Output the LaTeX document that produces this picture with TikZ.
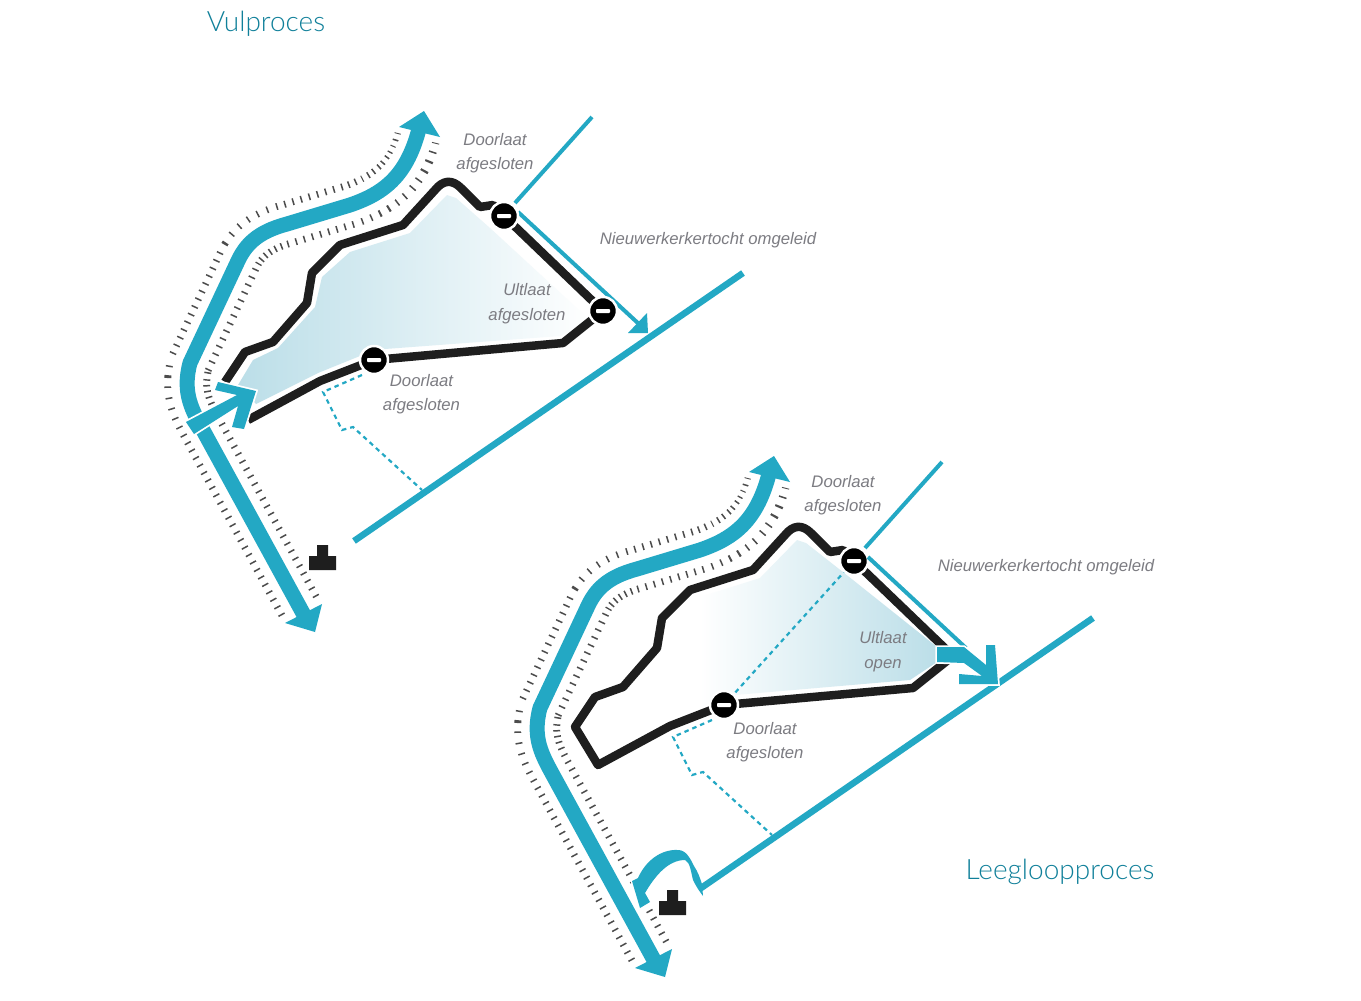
\documentclass[tikz,border=0pt]{standalone}
\usepackage{fontspec}
\setmainfont{Liberation Sans}
\newfontfamily\ttlfont[UprightFont=* Light]{Lato}
\definecolor{river}{HTML}{23A8C4}
\definecolor{lab}{HTML}{7C7C82}
\definecolor{title}{HTML}{10809A}
\definecolor{tint}{HTML}{BBDEE8}
\definecolor{dk}{HTML}{1E1E1E}
\tikzset{
  lbl/.style={text=lab,align=center,inner sep=0pt,font=\fontsize{16.7}{24.5}\selectfont\itshape},
  ttl/.style={text=title,inner sep=0pt,font=\ttlfont\fontsize{28}{32}\selectfont},
  riverline/.style={draw=river,line width=15pt,line join=round},
  tickouter/.style={draw=black!70,line width=46pt,dash pattern=on 1.5pt off 7pt},
  tickinner/.style={draw=white,line width=32pt},
  dyke/.style={draw=dk,line width=8.5pt,line join=round},
  cyanthin/.style={draw=river,line width=4pt},
  cyanmain/.style={draw=river,line width=6.5pt},
  dashline/.style={draw=river,line width=2.2pt,dash pattern=on 4.5pt off 4pt},
  gatenode/.style={circle,fill=black,draw=white,line width=2.5pt,minimum size=28pt,inner sep=0pt,
    path picture={\fill[white,rounded corners=0.8pt] (-7,-2) rectangle (7,2);}},
  head/.style={fill=river,draw=none},
  halohead/.style={fill=river,preaction={draw=white,line width=3.5pt,line join=miter}},
}
\newcommand\rivpath{(304,615) -- (204,432) .. controls (192,410) and (182,393) .. (190,363) -- (237,263) .. controls (245,245) and (257,232) .. (287,224) -- (350,205) .. controls (385,193) and (408,175) .. (420,125)}
\newcommand\tickpath{(299,606) -- (204,432) .. controls (192,410) and (182,393) .. (190,363) -- (237,263) .. controls (245,245) and (257,232) .. (287,224) -- (350,205) .. controls (385,193) and (408,175) .. (417,138)}
\newcommand\riverbase{%
  \draw[tickouter] \tickpath;
  \draw[tickinner] \rivpath;
  \fill[head] (399,127) -- (424,111) -- (440,137) -- cycle;
  \fill[head] (285,623) -- (322,604) -- (315,632) -- cycle;
}
\newcommand\gatesetup{%
  \coordinate (g1) at (504,216);
  \coordinate (g2) at (603,311);
  \coordinate (g3) at (374,360);
  \coordinate (k1) at (225,382);
  \coordinate (k2) at (248,420);
  \coordinate (fa) at (354,541);
  \coordinate (fb) at (743,273);
  \coordinate (ta) at (592,117);
  \coordinate (tb) at (515,203);
  \coordinate (d1) at (362,375);
  \coordinate (d5) at (422,490);
}
\newcommand\dykeupper{(k1) -- (245,352) -- (273,342) -- (307,303) -- (312,273) -- (340,245) -- (403,225) -- (435,190) .. controls (443,180) and (452,179) .. (461,188) -- (480,207) -- (493,205) -- (g1)}
\newcommand\dykerest{(g1) -- (g2) -- (563,343) -- (g3) -- (320,381) -- (k2)}
\newcommand\dashpart{\draw[dashline] (d1) -- (323,392) -- (342,430) -- (353,427) -- (d5);}
\newcommand\factory{\fill[dk] (309,556) -- (317,556) -- (317,545) -- (328,545) -- (328,556) -- (336,556) -- (336,570) -- (309,570) -- cycle;}
\begin{document}
\begin{tikzpicture}[x=1pt,y=-1pt]
\useasboundingbox (0,0) rectangle (1361,1001);
\fill[white] (0,0) rectangle (1361,1001);
% ---------- upper panel
\begin{scope}[name prefix=a-]
  \gatesetup
  \shade[left color=tint,right color=white]
    (238,385) -- (253,360) -- (278,348) -- (315,307) -- (322,277) -- (350,252) -- (410,233) -- (447,195) -- (456,198) -- (490,228) -- (592,322) -- (560,336) -- (385,349) -- (360,356) -- (318,373) -- (256,404) -- cycle;
  \dashpart
  \riverbase
  \draw[riverline] \rivpath;
  \draw[cyanmain] (fa) -- (fb);
  \draw[cyanthin] (ta) -- (tb);
  \coordinate (te) at (518,212);
  \coordinate (tf) at (640,325);
  \draw[cyanthin] (te) -- (tf);
  \fill[head] (628,333) -- (647,313) -- (648,333) -- cycle;
  \draw[dyke] \dykeupper;
  \draw[dyke] \dykerest;
  \factory
  \node[gatenode] (A1) at (g1) {};
  \node[gatenode] (A2) at (g2) {};
  \node[gatenode] (A3) at (g3) {};
  \path[halohead] (186,422) -- (237,395) -- (215,390) -- (218,382) -- (256,391) -- (244,429) -- (232,427) -- (238,406) -- (194,434) -- cycle;
\end{scope}
\node[ttl] (t1) at (266,24) {Vulproces};
\node[lbl] (l1) at (495,153) {Doorlaat\\afgesloten};
\node[lbl] (l2) at (708,240) {Nieuwerkerkertocht omgeleid};
\node[lbl] (l3) at (527,303.5) {Ultlaat\\afgesloten};
\node[lbl] (l4) at (421.5,394) {Doorlaat\\afgesloten};
% ---------- lower panel
\shade[left color=white,right color=tint]
  (700,597) -- (760,578) -- (797,540) -- (806,543) -- (853,580) -- (937,647) -- (937,662) -- (910,680) -- (735,695) -- (710,702) -- (700,708) -- cycle;
\begin{scope}[shift={(350,345)},name prefix=b-]
  \gatesetup
  \dashpart
  \riverbase
  \draw[riverline] \rivpath;
  \draw[cyanthin] (ta) -- (tb);
  \draw[dashline] (g3) -- (g1);
  \draw[dyke] \dykeupper;
  \draw[dyke,line cap=round] (k1) -- (k2);
  \draw[dyke] \dykerest;
  \factory
  \node[gatenode] (B1) at (g1) {};
  \node[gatenode] (B3) at (g3) {};
\end{scope}
% white gap where the outflow leaves the dyke
\fill[white] (938,646) -- (960,646) -- (960,664) -- (938,664) -- cycle;
\coordinate (b-te) at (868,557);
\coordinate (b-tf) at (966,648);
\draw[cyanthin] (b-te) -- (b-tf);
% outflow over the pump
\path[fill=river,preaction={draw=white,line width=2.5pt,line join=miter}]
  (703,896) .. controls (697,888) and (695,884) .. (693,880) .. controls (691,872) and (690,862) .. (685,860)
  .. controls (668,860) and (655,876) .. (645,893) -- (650,902) -- (640,908) -- (632,881) -- (638,878)
  .. controls (645,862) and (660,849) .. (678,850) .. controls (686,850) and (690,858) .. (694,866)
  .. controls (698,872) and (700,878) .. (702,884) -- cycle;
\draw[cyanmain,shorten <=-4pt] (b-fa) -- (b-fb);
\path[halohead] (937,647) -- (964,647) -- (986,665) -- (986,645) -- (995,645) -- (998,684) -- (959,684) -- (959,674) -- (982,676) -- (964,663) -- (937,662) -- cycle;
\node[ttl] (t2) at (1060,872) {Leegloopproces};
\node[lbl] (l5) at (843,495) {Doorlaat\\afgesloten};
\node[lbl] (l6) at (1046,567) {Nieuwerkerkertocht omgeleid};
\node[lbl] (l7) at (883,651.5) {Ultlaat\\open};
\node[lbl] (l8) at (765,742) {Doorlaat\\afgesloten};
\end{tikzpicture}
\end{document}
